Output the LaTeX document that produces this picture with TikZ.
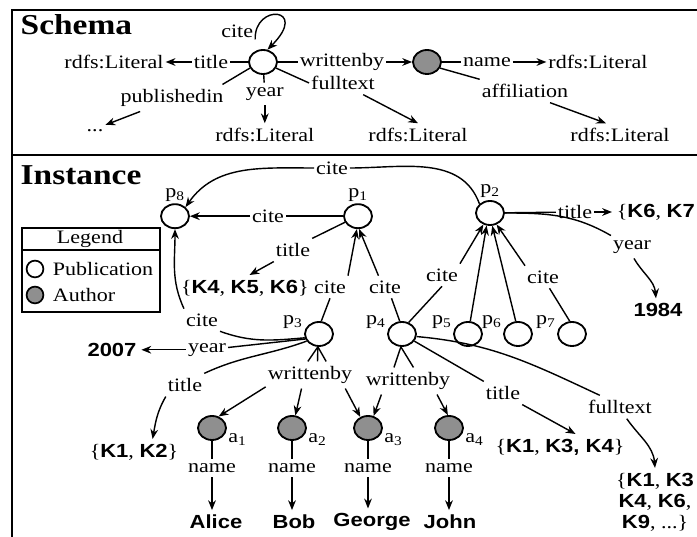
\documentclass[tikz,border=0pt]{standalone}
\usepackage{fontspec}
\setmainfont{Liberation Serif}[FakeStretch=1.16]
\setsansfont{Liberation Sans}[FakeStretch=1.16]
\usepackage{tikz}
\usetikzlibrary{shapes,arrows.meta}

\definecolor{authorgray}{gray}{0.56}
\newcommand{\lblsize}{\fontsize{13.5}{15}\selectfont}
\newcommand{\kw}[1]{{\sffamily\bfseries #1}}

\tikzset{
	publication/.style={draw=black, fill=white, shape=ellipse, minimum width=0.7cm, minimum height=0.6cm, inner sep=0pt, line width=1.3pt},
	author/.style={publication, fill=authorgray},
	elabel/.style={font=\lblsize, inner xsep=1pt, inner ysep=3pt},
	kval/.style={font=\lblsize, inner sep=3pt},
	heading/.style={font=\fontsize{20.5}{24}\selectfont\bfseries, anchor=base west, inner sep=0pt},
	every label/.style={font=\lblsize, inner sep=1pt},
}

\begin{document}
\begin{tikzpicture}[line width=1pt, >={Stealth[length=7pt,width=5.5pt]}]
	\useasboundingbox (0,0) rectangle (17.425,13.425);
	\draw [line width=1.6pt] (17.425,13.175) -- (0.3,13.175) -- (0.3,0);
	\draw [line width=1.6pt] (0.3,9.55) -- (17.425,9.55);

	% schema
	\node [heading] (16) at (0.5, 12.55) {Schema};
	\node [publication] (0) at (6.575, 11.875) {};
	\node [author] (1) at (10.675, 11.875) {};
	\node [elabel] (2) at (5.93, 12.65) {cite};
	\node [elabel] (3) at (5.275, 11.875) {title};
	\node [elabel] (4) at (2.85, 11.875) {rdfs:Literal};
	\node [elabel] (5) at (8.55, 11.875) {writtenby};
	\node [elabel] (6) at (12.175, 11.875) {name};
	\node [elabel] (7) at (14.95, 11.875) {rdfs:Literal};
	\node [elabel] (8) at (13.125, 11.15) {affiliation};
	\node [elabel] (9) at (15.5, 10.05) {rdfs:Literal};
	\node [elabel] (10) at (8.575, 11.35) {fulltext};
	\node [elabel] (11) at (10.45, 10.05) {rdfs:Literal};
	\node [elabel] (12) at (6.62, 11.075) {year};
	\node [elabel] (13) at (6.62, 10.05) {rdfs:Literal};
	\node [elabel] (14) at (4.3, 10.975) {publishedin};
	\node [elabel] (15) at (2.375, 10.15) {...};
	\draw [fill=none, ->] (2.-25) .. controls (6.35,13.35) and (7.75,13.25) .. (0.70);
	\draw [fill=none] (0) to (3);
	\draw [fill=none, ->] (3) to (4);
	\draw [fill=none] (0) to (5);
	\draw [fill=none, ->] (5) to (1);
	\draw [fill=none] (1) to (6);
	\draw [fill=none, ->] (6) to (7);
	\draw [fill=none] (1.-25) to (8.north west);
	\draw [fill=none, ->] (8.-25) to (9.140);
	\draw [fill=none] (0.-25) to (10.west);
	\draw [fill=none, ->] (10.-30) to (11.north);
	\draw [fill=none] (0) to (12);
	\draw [fill=none, ->] (12) to (13);
	\draw [fill=none] (0.205) to (14.15);
	\draw [fill=none, ->] (14.203) to (15.north east);

	% instance
	\node [heading] (19) at (0.5, 8.8) {Instance};
	\node [publication, label=above:p\textsubscript{8}] (20) at (4.375, 8.02) {};
	\node [publication, label=above:p\textsubscript{1}] (21) at (8.95, 8.02) {};
	\node [publication, label=above:p\textsubscript{2}] (22) at (12.25, 8.1) {};
	\node [publication, label=165:p\textsubscript{3}] (23) at (7.975, 5.075) {};
	\node [publication, label=165:p\textsubscript{4}] (24) at (10.05, 5.075) {};
	\node [publication, label=165:p\textsubscript{5}] (25) at (11.7, 5.075) {};
	\node [publication, label=165:p\textsubscript{6}] (26) at (12.95, 5.075) {};
	\node [publication, label=165:p\textsubscript{7}] (27) at (14.3, 5.075) {};
	\node [author, label=-15:a\textsubscript{1}] (30) at (5.3, 2.725) {};
	\node [author, label=-15:a\textsubscript{2}] (31) at (7.3, 2.725) {};
	\node [author, label=-15:a\textsubscript{3}] (32) at (9.2, 2.725) {};
	\node [author, label=-15:a\textsubscript{4}] (33) at (11.225, 2.725) {};

	\node [elabel] (40) at (8.3, 9.225) {cite};
	\node [elabel] (41) at (6.7, 8.02) {cite};
	\node [elabel] (42) at (7.325, 7.175) {title};
	\node [kval] (43) at (6.12, 6.225) {\{\kw{K4}, \kw{K5}, \kw{K6}\}};
	\node [elabel] (44) at (8.25, 6.25) {cite};
	\node [elabel] (45) at (9.625, 6.25) {cite};
	\node [elabel] (46) at (11.05, 6.55) {cite};
	\node [elabel] (47) at (13.575, 6.5) {cite};
	\node [elabel] (48) at (14.375, 8.125) {title};
	\node [kval, anchor=west] (49) at (15.3, 8.125) {\{\kw{K6}, \kw{K7}};
	\node [elabel] (50) at (15.8, 7.25) {year};
	\node [kval] (51) at (16.45, 5.675) {\kw{1984}};
	\node [elabel] (52) at (5.05, 5.425) {cite};
	\node [elabel] (53) at (5.175, 4.68) {year};
	\node [kval] (54) at (2.8, 4.68) {\kw{2007}};
	\node [elabel] (55) at (4.625, 3.8) {title};
	\node [kval] (56) at (3.35, 2.125) {\{\kw{K1}, \kw{K2}\}};
	\node [elabel] (57) at (7.75, 4.05) {writtenby};
	\node [elabel] (58) at (10.2, 3.9) {writtenby};
	\node [elabel] (59) at (12.575, 3.6) {title};
	\node [kval] (60) at (14.0, 2.25) {\{\kw{K1}, \kw{K3, K4}\}};
	\node [elabel] (61) at (15.5, 3.25) {fulltext};
	\node [kval, align=center] (62) at (16.375, 0.875) {\{\kw{K1}, \kw{K3}\\\kw{K4}, \kw{K6},\\\kw{K9}, ...\}};
	\node [elabel] (63) at (5.3, 1.725) {name};
	\node [elabel] (64) at (7.3, 1.725) {name};
	\node [elabel] (65) at (9.2, 1.725) {name};
	\node [elabel] (66) at (11.225, 1.725) {name};
	\node [kval] (67) at (5.4, 0.375) {\kw{Alice}};
	\node [kval] (68) at (7.35, 0.375) {\kw{Bob}};
	\node [kval] (69) at (9.3, 0.375) {\kw{George}};
	\node [kval] (70) at (11.25, 0.375) {\kw{John}};

	\draw [fill=none] (22.north west) to[out=110, in=0] (40);
	\draw [fill=none, ->] (40) to[out=180, in=55] (20.north east);
	\draw [fill=none] (21) to (41);
	\draw [fill=none, ->] (41) to (20);
	\draw [fill=none] (21.205) to (42.north east);
	\draw [fill=none, ->] (42.south west) to (43.70);
	\draw [fill=none] (23.80) to (44.south);
	\draw [fill=none, ->] (44.north east) to (21.-95);
	\draw [fill=none] (24.100) to (45.-60);
	\draw [fill=none, ->] (45.120) to (21.-85);
	\draw [fill=none] (24.60) to (46.south);
	\draw [fill=none, ->] (46.north east) to (22.-120);
	\draw [fill=none, ->] (25.80) to (22.-105);
	\draw [fill=none, ->] (26.100) to (22.-80);
	\draw [fill=none] (27.100) to (47.-60);
	\draw [fill=none, ->] (47.north west) to (22.-60);
	\draw [fill=none] (22) to (48);
	\draw [fill=none, ->] (48) to (49);
	\draw [fill=none] (22.east) to[out=0, in=150] (50.north west);
	\draw [fill=none, ->] (50.-80) to[out=-60, in=95] (51.100);
	\draw [fill=none] (23.195) to[out=185, in=-20] (52.south east);
	\draw [fill=none, ->] (52.north west) to[out=115, in=-90] (20.south);
	\draw [fill=none] (23.200) to (53);
	\draw [fill=none, ->] (53) to (54);
	\draw [fill=none] (23.210) to[out=200, in=25] (55.north east);
	\draw [fill=none, ->] (55.south west) to[out=-120, in=80] (56.35);
	\draw [fill=none] (23.-95) to (57.99);
	\draw [fill=none] (23.-95) to (57.61);
	\draw [fill=none] (23.-95) to (57.40);
	\draw [fill=none, ->] (57.195) to (30.60);
	\draw [fill=none, ->] (57.-122) to (31.75);
	\draw [fill=none, ->] (57.-21) to (32.125);
	\draw [fill=none] (24.-95) to (58.136);
	\draw [fill=none] (24.-95) to (58.68);
	\draw [fill=none, ->] (58.-153) to (32.65);
	\draw [fill=none, ->] (58.-25) to (33.95);
	\draw [fill=none] (24) to (59.north west);
	\draw [fill=none, ->] (59.south east) to (60.40);
	\draw [fill=none] (24.-10) to[out=-5, in=155] (61.150);
	\draw [fill=none, ->] (61.-60) to[out=-55, in=95] (62.north);
	\draw [fill=none] (30) to (63);
	\draw [fill=none, ->] (63) to (63 |- 67.north);
	\draw [fill=none] (31) to (64);
	\draw [fill=none, ->] (64) to (64 |- 68.north);
	\draw [fill=none] (32) to (65);
	\draw [fill=none, ->] (65) to (65 |- 69.north);
	\draw [fill=none] (33) to (66);
	\draw [fill=none, ->] (66) to (66 |- 70.north);

	% legend
	\draw [line width=1.2pt] (0.55,5.625) rectangle (4.0,7.725);
	\draw [line width=1.2pt] (0.55,7.175) -- (4.0,7.175);
	\node [elabel] (80) at (2.25, 7.45) {Legend};
	\node [draw=black, fill=white, shape=circle, minimum size=0.42cm, inner sep=0pt, line width=1.2pt] (81) at (0.875, 6.7) {};
	\node [elabel, anchor=west] (82) at (1.27, 6.7) {Publication};
	\node [draw=black, fill=authorgray, shape=circle, minimum size=0.42cm, inner sep=0pt, line width=1.2pt] (83) at (0.875, 6.05) {};
	\node [elabel, anchor=west] (84) at (1.27, 6.05) {Author};
\end{tikzpicture}
\end{document}
